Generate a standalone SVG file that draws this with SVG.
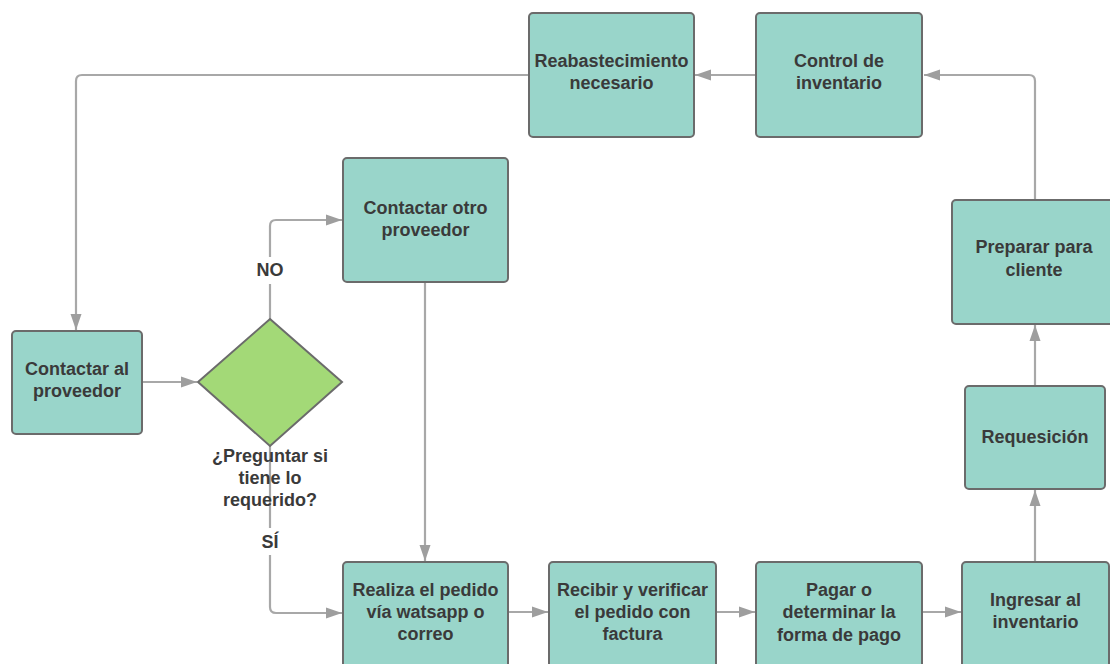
<svg xmlns="http://www.w3.org/2000/svg" width="1110" height="664" viewBox="0 0 1110 664">
<defs>
<marker id="arr" markerWidth="16" markerHeight="12" refX="16" refY="6" orient="auto" markerUnits="userSpaceOnUse">
<path d="M0,0.5 L16,6 L0,11.5 Z" fill="#9e9e9e"/>
</marker>
<style>
.box{fill:#99d5ca;stroke:#6b6b6b;stroke-width:2}
.dia{fill:#a3d977;stroke:#6b6b6b;stroke-width:2}
.t{font-family:"Liberation Sans",Arial,sans-serif;font-weight:bold;font-size:18px;fill:#3a3a3a;text-anchor:middle}
.c{fill:none;stroke:#a8a8a8;stroke-width:2.2;stroke-linejoin:round}
</style>
</defs>
<rect width="1110" height="664" fill="#ffffff"/>
<g id="connectors">
<path class="c" d="M1035,200 V81 Q1035,75 1029,75 H924" marker-end="url(#arr)"/>
<path class="c" d="M756,75 H695" marker-end="url(#arr)"/>
<path class="c" d="M529,75 H82 Q76,75 76,81 V330" marker-end="url(#arr)"/>
<path class="c" d="M142,382 H197" marker-end="url(#arr)"/>
<path class="c" d="M270,319 V284"/>
<path class="c" d="M270,257 V226 Q270,220 276,220 H342" marker-end="url(#arr)"/>
<path class="c" d="M425,282 V561" marker-end="url(#arr)"/>
<path class="c" d="M270,446 V528"/>
<path class="c" d="M270,555 V607 Q270,613 276,613 H342" marker-end="url(#arr)"/>
<path class="c" d="M508,612 H548" marker-end="url(#arr)"/>
<path class="c" d="M716,612 H755" marker-end="url(#arr)"/>
<path class="c" d="M922,612 H961" marker-end="url(#arr)"/>
<path class="c" d="M1035,562 V490" marker-end="url(#arr)"/>
<path class="c" d="M1035,386 V325" marker-end="url(#arr)"/>
<text class="t" x="270" y="276">NO</text>
<text class="t" x="270" y="548">SÍ</text>
</g>
<g id="n-reab">
<rect class="box" x="529" y="13" width="165" height="124" rx="4"/>
<text class="t" x="611.5" y="67">Reabastecimiento</text>
<text class="t" x="611.5" y="89">necesario</text>
</g>
<g id="n-control">
<rect class="box" x="756" y="13" width="166" height="124" rx="4"/>
<text class="t" x="839" y="67">Control de</text>
<text class="t" x="839" y="89">inventario</text>
</g>
<g id="n-otro">
<rect class="box" x="343" y="158" width="165" height="124" rx="4"/>
<text class="t" x="425.5" y="214">Contactar otro</text>
<text class="t" x="425.5" y="236">proveedor</text>
</g>
<g id="n-preparar">
<rect class="box" x="952" y="200" width="165" height="124" rx="4"/>
<text class="t" x="1034" y="253">Preparar para</text>
<text class="t" x="1034" y="276">cliente</text>
</g>
<g id="n-contactar">
<rect class="box" x="12" y="331" width="130" height="103" rx="4"/>
<text class="t" x="77" y="375">Contactar al</text>
<text class="t" x="77" y="397">proveedor</text>
</g>
<g id="n-decision">
<polygon class="dia" points="270,319 342,382 270,446 198,382"/>
<text class="t" x="270" y="462">¿Preguntar si</text>
<text class="t" x="270" y="484">tiene lo</text>
<text class="t" x="270" y="506">requerido?</text>
</g>
<g id="n-requesicion">
<rect class="box" x="965" y="386" width="140" height="103" rx="4"/>
<text class="t" x="1035" y="443">Requesición</text>
</g>
<g id="n-realiza">
<rect class="box" x="343" y="562" width="165" height="110" rx="4"/>
<text class="t" x="425.5" y="596">Realiza el pedido</text>
<text class="t" x="425.5" y="618">vía watsapp o</text>
<text class="t" x="425.5" y="640">correo</text>
</g>
<g id="n-recibir">
<rect class="box" x="549" y="562" width="167" height="110" rx="4"/>
<text class="t" x="632.5" y="596">Recibir y verificar</text>
<text class="t" x="632.5" y="618">el pedido con</text>
<text class="t" x="632.5" y="640">factura</text>
</g>
<g id="n-pagar">
<rect class="box" x="756" y="562" width="166" height="110" rx="4"/>
<text class="t" x="839" y="596">Pagar o</text>
<text class="t" x="839" y="618">determinar la</text>
<text class="t" x="839" y="641">forma de pago</text>
</g>
<g id="n-ingresar">
<rect class="box" x="962" y="562" width="147" height="110" rx="4"/>
<text class="t" x="1035.5" y="606">Ingresar al</text>
<text class="t" x="1035.5" y="628">inventario</text>
</g>
</svg>
